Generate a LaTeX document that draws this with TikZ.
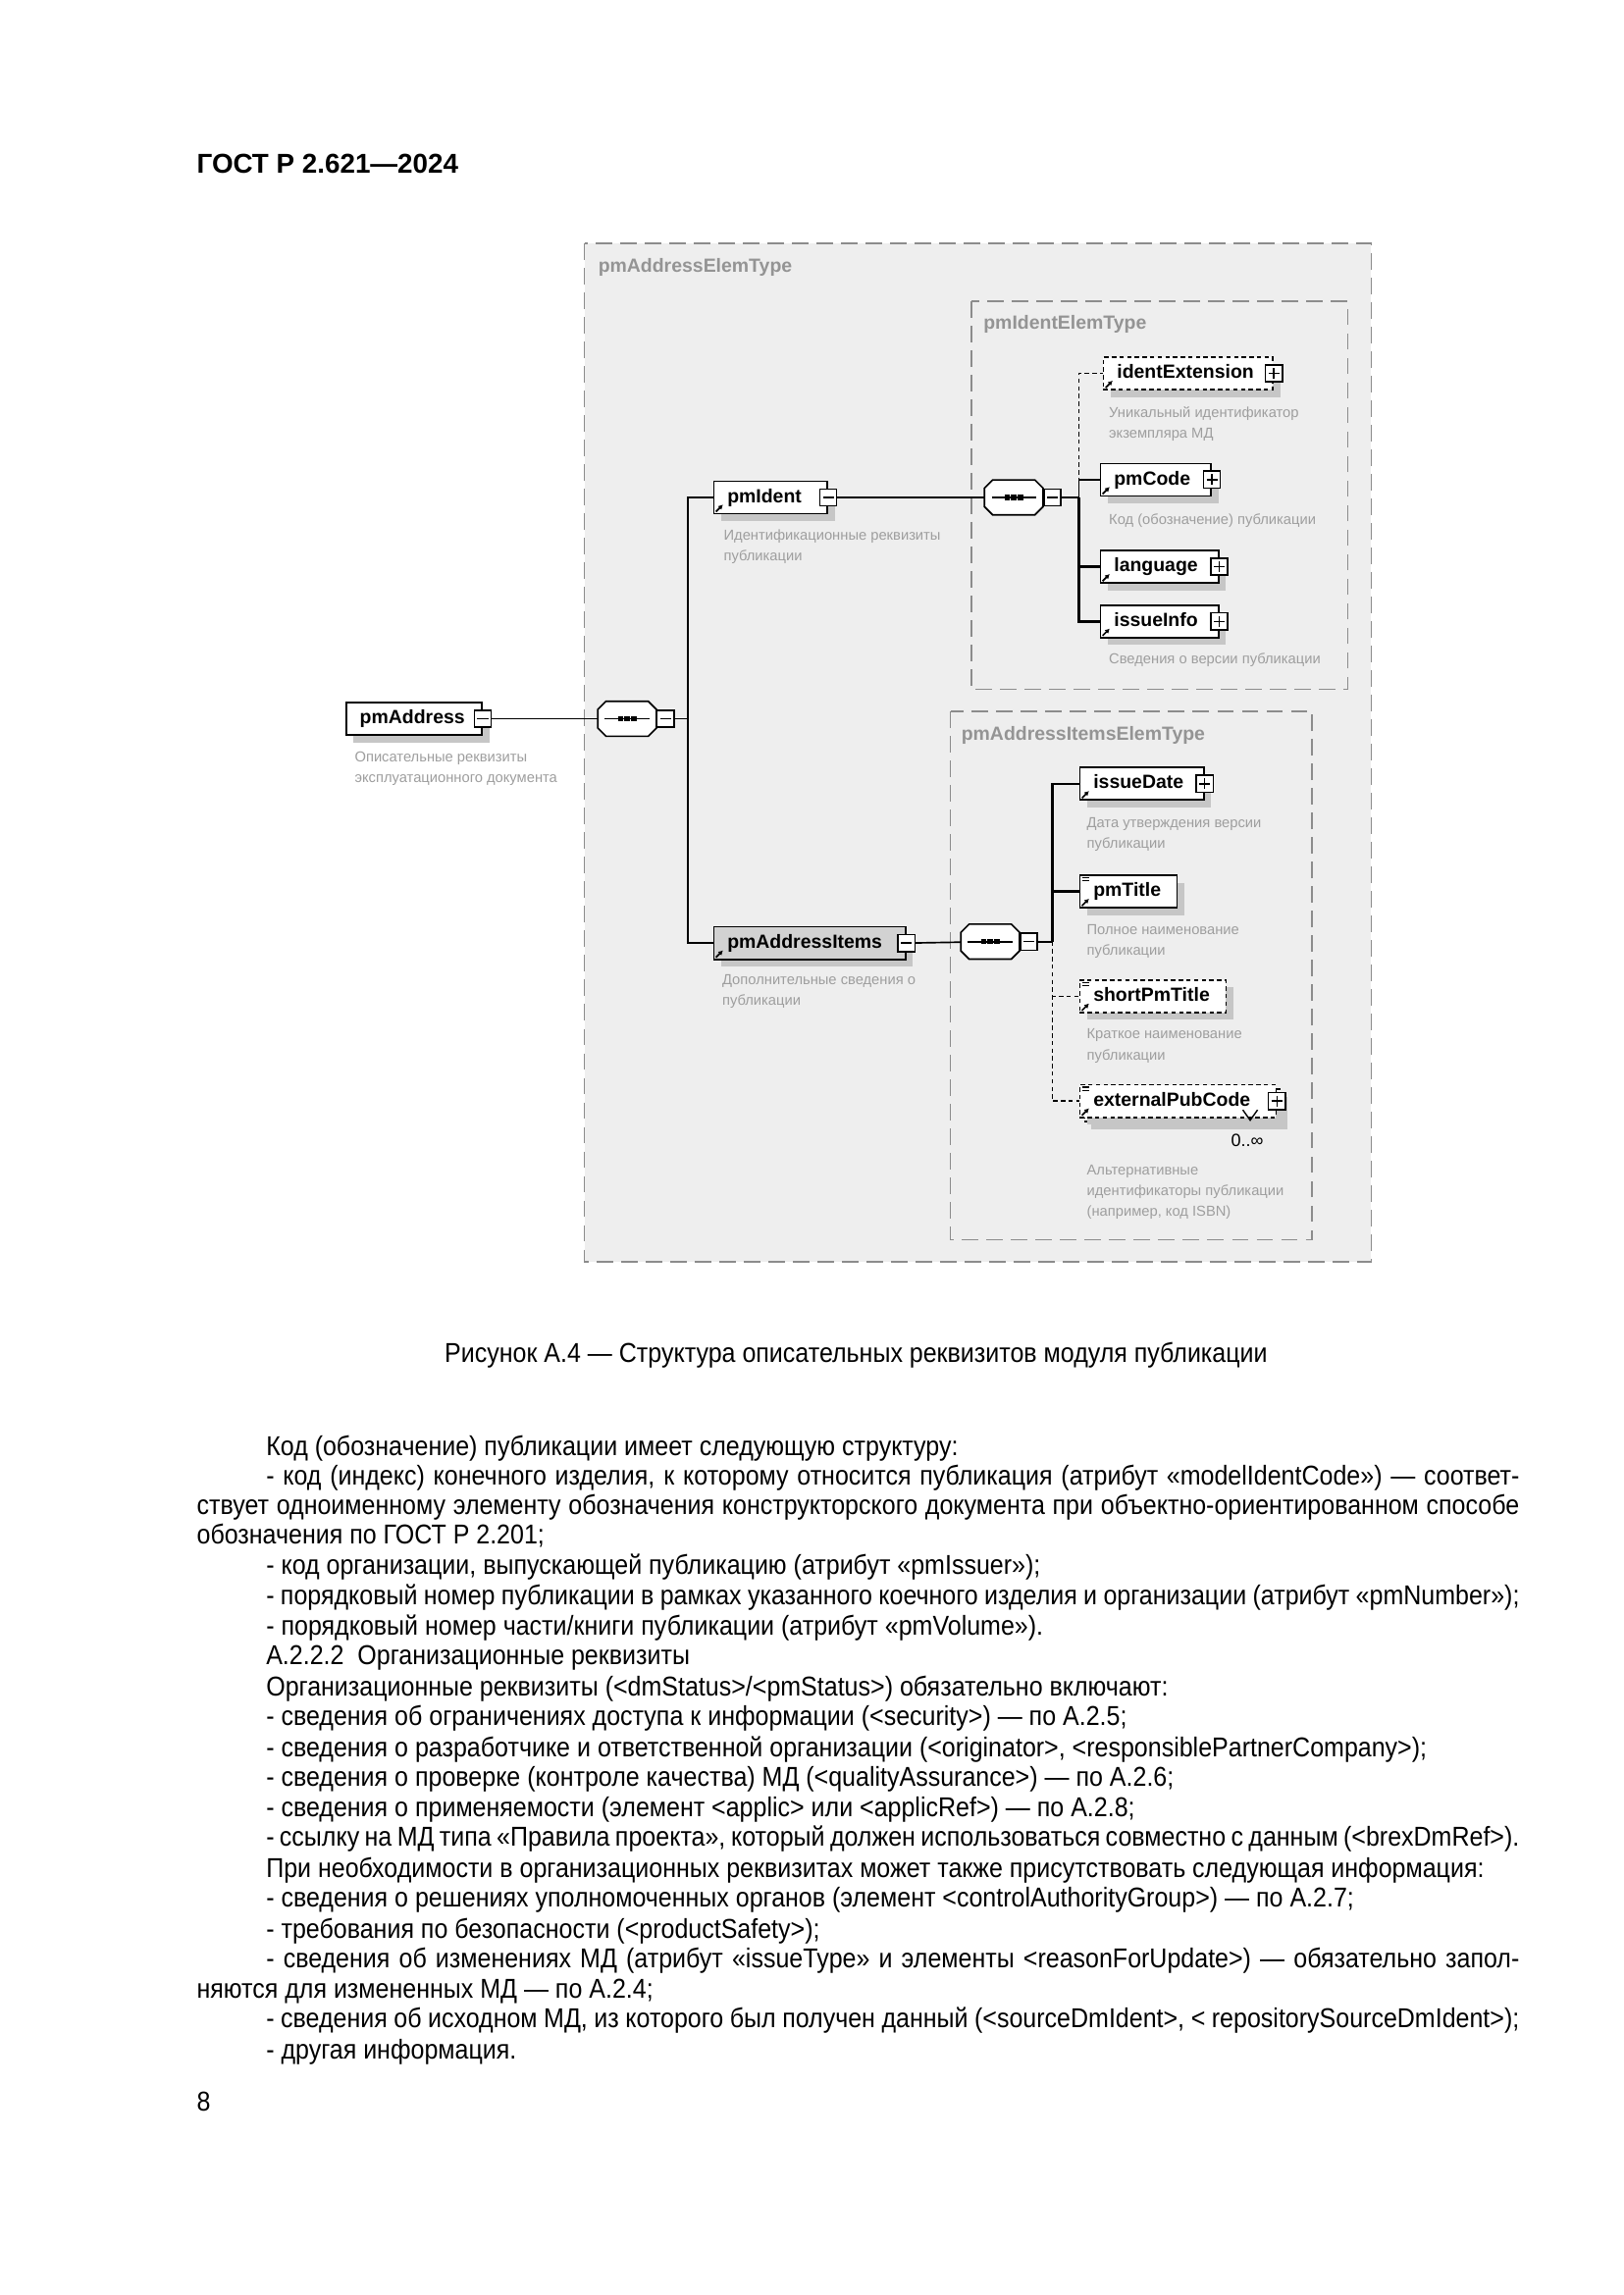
\documentclass[tikz,border=0pt]{standalone}
\usepackage{fontspec}
\setmainfont{Liberation Sans}
\newfontfamily\narrowfont{Liberation Sans}[FakeStretch=0.9]
\usetikzlibrary{arrows.meta,shadows}

% small marks inside the element boxes
\newcommand{\refmark}[1]{\draw[line width=0.6pt,-{Latex[length=1.7pt,width=1.9pt]}] ([xshift=1.1pt,yshift=1pt]#1.south west) -- ++(2.6pt,2.6pt);}
\newcommand{\simplemark}[1]{\draw[line width=0.45pt] ([xshift=1.2pt,yshift=-1.2pt]#1.north west) -- ++(2.6pt,0) ([xshift=1.2pt,yshift=-2.3pt]#1.north west) -- ++(2.6pt,0);}
% sequence compositor: octagon with shadow, line and three dots
\newcommand{\octpath}[1]{([xshift=3pt]#1.north west) -- ([xshift=-3pt]#1.north east) -- ([yshift=-3pt]#1.north east)
  -- ([yshift=3pt]#1.south east) -- ([xshift=-3pt]#1.south east) -- ([xshift=3pt]#1.south west)
  -- ([yshift=3pt]#1.south west) -- ([yshift=-3pt]#1.north west) -- cycle}
\newcommand{\seqshape}[1]{
  \fill[gray!45, shift={(2.7pt,-2.7pt)}] \octpath{#1};
  \draw[line width=0.6pt, fill=white] \octpath{#1};
  \draw[line width=0.6pt] ([xshift=2.6pt]#1.west) -- ([xshift=-2.6pt]#1.east);
  \foreach \d in {-2.4pt,0pt,2.4pt}
    \fill ([xshift=\d]#1.center) +(-1pt,-1pt) rectangle +(1pt,1pt);
}

\tikzset{
  grp/.style={draw=black!45, line width=0.55pt, dash pattern=on 6pt off 3pt, fill=gray!13},
  grplabel/.style={anchor=west, inner sep=0, text=black!42, font=\bfseries\fontsize{7}{8}\selectfont},
  shadowed/.style={drop shadow={shadow xshift=2.7pt, shadow yshift=-2.7pt, fill=gray!45, opacity=1}},
  elem/.style={draw, line width=0.6pt, fill=white, anchor=west, shadowed,
    minimum height=11.9pt, inner xsep=5pt, inner ysep=0pt, text width=#1, align=left,
    text height=5.2pt, text depth=1.5pt, font=\bfseries\fontsize{7}{8}\selectfont},
  opt/.style={dash pattern=on 1.6pt off 1.2pt},
  tog/.style={draw, line width=0.55pt, fill=white, minimum size=6.2pt, inner sep=0},
  minus/.style={tog, path picture={\draw[line width=0.55pt] ([xshift=1.1pt]path picture bounding box.west) -- ([xshift=-1.1pt]path picture bounding box.east);}},
  plus/.style={tog, path picture={\draw[line width=0.55pt] ([xshift=1.1pt]path picture bounding box.west) -- ([xshift=-1.1pt]path picture bounding box.east)
      ([yshift=-1.1pt]path picture bounding box.north) -- ([yshift=1.1pt]path picture bounding box.south);}},
  seq/.style={draw=none, minimum width=21.1pt, minimum height=12.4pt, inner sep=0, anchor=west},
  desc/.style={anchor=base west, inner sep=0, align=left, text=black!38, font=\fontsize{5.3}{7.6}\selectfont},
  conn/.style={line width=0.6pt},
  body/.style={anchor=base west, inner sep=0, font=\narrowfont\fontsize{10}{11}\selectfont}
}

\begin{document}
\begin{tikzpicture}[x=0.5413pt, y=-0.5413pt]
\useasboundingbox[fill=white] (0,0) rectangle (1100,1555);

% header
\node[anchor=base west, inner sep=0, font=\bfseries\fontsize{10}{12}\selectfont] (head) at (133,117) {ГОСТ Р 2.621—2024};

% groups
\draw[grp] (396,165) rectangle (929,855);
\draw[grp] (658,204) rectangle (913,467);
\draw[grp] (644,482) rectangle (889,840);
\node[grplabel] (gAddr) at (405,181) {pmAddressElemType};
\node[grplabel] (gIdent) at (666,220) {pmIdentElemType};
\node[grplabel] (gItems) at (651,498) {pmAddressItemsElemType};

% root
\node[elem=39.8pt] (pmAddress) at (234,487) {pmAddress};
\node[minus] (pmAddress-t) at (pmAddress.east) {};
\node[desc] (dAddress) at (240,530) {Описательные реквизиты\\эксплуатационного документа};
\node[seq] (seq1) at (405,487) {};
\seqshape{seq1}
\node[minus, anchor=west] (seq1-t) at (seq1.east) {};
\coordinate (bus1) at (466,487);

% first level
\node[elem=31.7pt] (pmIdent) at (483,337) {pmIdent};
\node[minus] (pmIdent-t) at (pmIdent.east) {};
\refmark{pmIdent}
\node[desc] (dIdent) at (490,380) {Идентификационные реквизиты\\публикации};
\node[elem=60.4pt, fill=gray!35] (pmAddressItems) at (483,639) {pmAddressItems};
\node[minus] (pmAddressItems-t) at (pmAddressItems.east) {};
\refmark{pmAddressItems}
\node[desc] (dItems) at (489,681) {Дополнительные сведения о\\публикации};

% pmIdentElemType
\node[seq] (seq2) at (667,337) {};
\seqshape{seq2}
\node[minus, anchor=west] (seq2-t) at (seq2.east) {};
\coordinate (bus2) at (731,337);
\node[elem=52.2pt, opt] (identExtension) at (747,253) {identExtension};
\node[plus] (identExtension-t) at (identExtension.east) {};
\refmark{identExtension}
\node[desc] (dExt) at (751,297) {Уникальный идентификатор\\экземпляра МД};
\node[elem=30.6pt] (pmCode) at (745,325) {pmCode};
\node[plus] (pmCode-t) at (pmCode.east) {};
\refmark{pmCode}
\node[desc] (dCode) at (751,355) {Код (обозначение) публикации};
\node[elem=33.3pt] (language) at (745,384) {language};
\node[plus] (language-t) at (language.east) {};
\refmark{language}
\node[elem=33.3pt] (issueInfo) at (745,421) {issueInfo};
\node[plus] (issueInfo-t) at (issueInfo.east) {};
\refmark{issueInfo}
\node[desc] (dInfo) at (751,450) {Сведения о версии публикации};

% pmAddressItemsElemType
\node[seq] (seq3) at (651,638) {};
\seqshape{seq3}
\node[minus, anchor=west] (seq3-t) at (seq3.east) {};
\coordinate (bus3) at (713,638);
\node[elem=35.5pt] (issueDate) at (731,531) {issueDate};
\node[plus] (issueDate-t) at (issueDate.east) {};
\refmark{issueDate}
\node[desc] (dDate) at (736,575) {Дата утверждения версии\\публикации};
\node[elem=25.7pt] (pmTitle) at (731,604) {pmTitle};
\refmark{pmTitle}
\simplemark{pmTitle}
\node[desc] (dTitle) at (736,647) {Полное наименование\\публикации};
\node[elem=43.6pt, opt] (shortPmTitle) at (731,675) {shortPmTitle};
\refmark{shortPmTitle}
\simplemark{shortPmTitle}
\node[desc] (dShort) at (736,718) {Краткое наименование\\публикации};
\node[elem=62pt, opt] (extBack) at (734,749) {\phantom{x}};
\node[elem=62pt, opt] (externalPubCode) at (731,746) {externalPubCode};
\node[plus] (externalPubCode-t) at (externalPubCode.east) {};
\refmark{externalPubCode}
\simplemark{externalPubCode}
\draw[line width=0.5pt] (842,752) -- (847,759) -- (852,752);
\node[inner sep=0, font=\fontsize{6.5}{7}\selectfont] (occurs) at (845,773) {0..∞};
\node[desc] (dPub) at (736,824) {Альтернативные\\идентификаторы публикации\\(например, код ISBN)};

% connectors
\draw[conn] (pmAddress-t) -- (seq1);
\draw[conn] (seq1-t) -- (bus1);
\draw[conn] (pmIdent.west) -| (bus1) |- (pmAddressItems.west);
\draw[conn] (pmIdent-t) -- (seq2);
\draw[conn] (seq2-t) -- (bus2);
\draw[conn, opt] (bus2) |- (identExtension.west);
\draw[conn] (bus2) |- (pmCode.west);
\draw[conn, line width=1pt] (bus2) |- (language.west);
\draw[conn, line width=1pt] (bus2) |- (issueInfo.west);
\draw[conn] (pmAddressItems-t) -- (seq3);
\draw[conn] (seq3-t) -- (bus3);
\draw[conn, line width=0.8pt] (bus3) |- (issueDate.west);
\draw[conn, line width=0.8pt] (bus3) |- (pmTitle.west);
\draw[conn, opt] (bus3) |- (shortPmTitle.west);
\draw[conn, opt] (bus3) |- (externalPubCode.west);

% caption
\node[anchor=base, inner sep=0, font=\narrowfont\fontsize{10}{11}\selectfont] (caption) at (580,923) {Рисунок А.4 — Структура описательных реквизитов модуля публикации};

% text below
\foreach \x/\y/\t in {180/981/{Код (обозначение) публикации имеет следующую структуру:},
  133/1041/{обозначения по ГОСТ Р 2.201;},
  180/1062/{- код организации, выпускающей публикацию (атрибут «pmIssuer»);},
  180/1103/{- порядковый номер части/книги публикации (атрибут «pmVolume»).},
  180/1123/{А.2.2.2\ \ Организационные реквизиты},
  180/1144/{Организационные реквизиты (<dmStatus>/<pmStatus>) обязательно включают:},
  180/1164/{- сведения об ограничениях доступа к информации (<security>) — по А.2.5;},
  180/1185/{- сведения о разработчике и ответственной организации (<originator>, <responsiblePartnerCompany>);},
  180/1205/{- сведения о проверке (контроле качества) МД (<qualityAssurance>) — по А.2.6;},
  180/1226/{- сведения о применяемости (элемент <applic> или <applicRef>) — по А.2.8;},
  180/1267/{При необходимости в организационных реквизитах может также присутствовать следующая информация:},
  180/1287/{- сведения о решениях уполномоченных органов (элемент <controlAuthorityGroup>) — по А.2.7;},
  180/1308/{- требования по безопасности (<productSafety>);},
  133/1349/{няются для измененных МД — по А.2.4;},
  180/1390/{- другая информация.}}
  \node[body] (ln\y) at (\x,\y+5) {\t};
% justified lines
\foreach \x/\y/\w/\t in {180/1001/459.6pt/{- код (индекс) конечного изделия, к которому относится публикация (атрибут «modelIdentCode») — соответ-},
  133/1021/485pt/{ствует одноименному элементу обозначения конструкторского документа при объектно-ориентированном способе},
  180/1082/459.6pt/{- порядковый номер публикации в рамках указанного коечного изделия и организации (атрибут «pmNumber»);},
  180/1246/459.6pt/{- ссылку на МД типа «Правила проекта», который должен использоваться совместно с данным (<brexDmRef>).},
  180/1328/459.6pt/{- сведения об изменениях МД (атрибут «issueType» и элементы <reasonForUpdate>) — обязательно запол-},
  180/1369/459.6pt/{- сведения об исходном МД, из которого был получен данный (<sourceDmIdent>, < repositorySourceDmIdent>);}}
  \node[body] (ln\y) at (\x,\y+5) {\makebox[\w][s]{\t}};

\node[body] (pagenum) at (133,1430) {8};
\end{tikzpicture}
\end{document}
